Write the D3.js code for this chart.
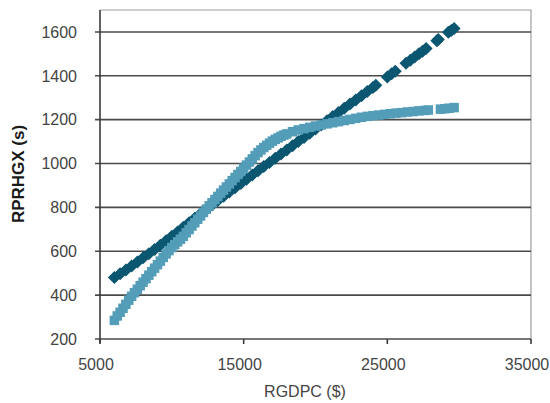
<!DOCTYPE html>
<html>
<head>
<meta charset="utf-8">
<script src="https://cdn.jsdelivr.net/npm/d3@7"></script>
<style>
  html, body { margin: 0; padding: 0; background: #fff; }
  svg { display: block; }
</style>
</head>
<body>
<svg id="chart" width="550" height="403"></svg>
<script>
// ---- data ----
const xTicks = [5000, 15000, 25000, 35000];
const yTicks = [200, 400, 600, 800, 1000, 1200, 1400, 1600];

const darkX = [6000, 6400, 6800, 7200, 7600, 8000, 8400, 8800, 9200, 9600,
  10000, 10400, 10800, 11200, 11600, 12000, 12400, 12800, 13200, 13600,
  14000, 14400, 14800, 15200, 15600, 16000, 16400, 16800, 17200, 17600,
  18000, 18400, 18800, 19200, 19600, 20000, 20400, 20800, 21200, 21600,
  22000, 22400, 22800, 23200, 23600, 24000, 24200,
  25000, 25300, 25550,
  26300, 26600, 26900, 27200, 27450, 27700,
  28450, 28550,
  29250, 29450, 29650];
const darkY = [480, 497, 515, 533, 551, 570, 589, 608, 628, 648,
  668, 688, 709, 730, 750, 771, 791, 811, 831, 851,
  870, 890, 909, 928, 948, 967, 986, 1005, 1024, 1043,
  1062, 1081, 1100, 1119, 1138, 1157, 1176, 1195, 1214, 1233,
  1252, 1271, 1290, 1309, 1328, 1347, 1357,
  1395, 1409, 1421,
  1457, 1471, 1486, 1500, 1512, 1524,
  1560, 1565,
  1598, 1607, 1616];

const lightX = [6000, 6200, 6400, 6600, 6800, 7000, 7200, 7400, 7600, 7800,
  8000, 8200, 8400, 8600, 8800, 9000, 9200, 9400, 9600, 9800,
  10000, 10200, 10400, 10600, 10800, 11000, 11200, 11400, 11600, 11800,
  12000, 12200, 12400, 12600, 12800, 13000, 13200, 13400, 13600, 13800,
  14000, 14200, 14400, 14600, 14800, 15000, 15200, 15400, 15600, 15800,
  16000, 16200, 16400, 16600, 16800, 17000, 17200, 17400, 17600, 17800,
  18000, 18400, 18800, 19200, 19600, 20000, 20400, 20800, 21200, 21600,
  22000, 22400, 22800, 23200, 23600, 24000, 24400, 24800, 25200, 25600,
  26000, 26400, 26800, 27200, 27600, 27850,
  28700, 29000, 29300, 29650];
const lightY = [285, 305, 322, 340, 358, 377, 395, 411, 427, 443,
  459, 475, 491, 507, 523, 539, 555, 572, 588, 603,
  617, 630, 643, 655, 668, 684, 699, 715, 730, 746,
  761, 777, 792, 807, 821, 836, 850, 865, 879, 893,
  907, 922, 936, 950, 964, 979, 993, 1007, 1021, 1036,
  1050, 1062, 1073, 1083, 1093, 1102, 1110, 1117, 1124, 1130,
  1135, 1145, 1153, 1159, 1165, 1171, 1176, 1181, 1186, 1191,
  1196, 1201, 1206, 1211, 1215, 1218, 1221, 1224, 1227, 1230,
  1232, 1235, 1237, 1240, 1242, 1244,
  1248, 1250, 1252, 1255];

const darkColor = "#0b5670";
const lightColor = "#539db8";

// ---- layout ----
const svg = d3.select("#chart");
const mLeft = 100, mRight = 531, mTop = 10, mBottom = 339;
const x = d3.scaleLinear().domain([5000, 35000]).range([mLeft, mRight]);
const y = d3.scaleLinear().domain([200, 1700]).range([mBottom, mTop]);

// plot frame (top & right)
svg.append("path")
  .attr("d", `M${mLeft},${mTop}H${mRight}V${mBottom}`)
  .attr("fill", "none").attr("stroke", "#a0a0a0").attr("stroke-width", 1.2);

// gridlines + y ticks
svg.append("g").selectAll("line").data(yTicks).join("line")
  .attr("x1", mLeft - 5).attr("x2", mRight)
  .attr("y1", d => y(d)).attr("y2", d => y(d))
  .attr("stroke", "#4a4a4a").attr("stroke-width", 1.6);

// left axis
svg.append("line").attr("x1", mLeft).attr("x2", mLeft)
  .attr("y1", mTop).attr("y2", mBottom + 4)
  .attr("stroke", "#3a3a3a").attr("stroke-width", 1.6);

// x ticks
svg.append("g").selectAll("line").data(xTicks).join("line")
  .attr("x1", d => x(d)).attr("x2", d => x(d))
  .attr("y1", mBottom).attr("y2", mBottom + 5)
  .attr("stroke", "#3a3a3a").attr("stroke-width", 1.6);

// series: dark diamonds
const r = 6.5;
svg.append("g").selectAll("path").data(darkX.map((d, i) => [d, darkY[i]])).join("path")
  .attr("d", `M0,${-r}L${r},0L0,${r}L${-r},0Z`)
  .attr("transform", d => `translate(${x(d[0])},${y(d[1])})`)
  .attr("fill", darkColor);

// series: light squares
const s = 9.5;
svg.append("g").selectAll("rect").data(lightX.map((d, i) => [d, lightY[i]])).join("rect")
  .attr("x", d => x(d[0]) - s / 2).attr("y", d => y(d[1]) - s / 2)
  .attr("width", s).attr("height", s)
  .attr("fill", lightColor);

// tick labels
const font = "'Liberation Sans', Arial, Helvetica, sans-serif";
svg.append("g").selectAll("text").data(yTicks).join("text")
  .attr("x", 77).attr("y", d => y(d)).attr("dy", "0.36em")
  .attr("text-anchor", "end")
  .attr("font-family", font).attr("font-size", 16).attr("fill", "#444")
  .text(d => d);

svg.append("g").selectAll("text").data(xTicks).join("text")
  .attr("x", d => x(d) - 4).attr("y", 370)
  .attr("text-anchor", "middle")
  .attr("font-family", font).attr("font-size", 16).attr("fill", "#444")
  .text(d => d);

// axis titles
svg.append("text")
  .attr("x", 305).attr("y", 397)
  .attr("text-anchor", "middle")
  .attr("font-family", font).attr("font-size", 16).attr("fill", "#444")
  .text("RGDPC ($)");

svg.append("text")
  .attr("transform", "translate(24,174) rotate(-90)")
  .attr("text-anchor", "middle")
  .attr("font-family", font).attr("font-size", 17).attr("font-weight", "bold")
  .attr("fill", "#1a1a1a")
  .text("RPRHGX (s)");
</script>
</body>
</html>
